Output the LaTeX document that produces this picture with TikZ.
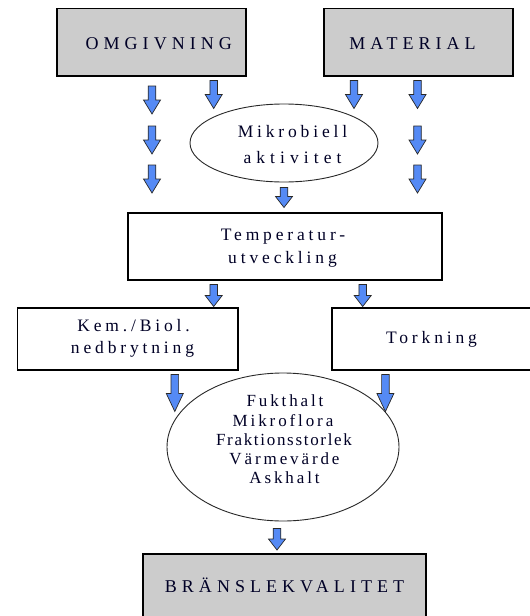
\documentclass[tikz,border=0pt]{standalone}
\usepackage{fontspec}
\setmainfont{Liberation Serif}
\newfontfamily\spcaps[LetterSpace=28]{Liberation Serif}
\newfontfamily\spmid[LetterSpace=22]{Liberation Serif}
\newfontfamily\spwide[LetterSpace=29]{Liberation Serif}
\newfontfamily\spsmall[LetterSpace=17]{Liberation Serif}
\newfontfamily\sptight[LetterSpace=10]{Liberation Serif}
\usetikzlibrary{shapes.geometric}
\definecolor{arrblue}{RGB}{85,138,245}
\definecolor{boxgray}{RGB}{204,204,204}
\definecolor{edgegray}{RGB}{40,40,40}
\tikzset{
  boxnode/.style={draw=black, line width=1.8pt, rectangle, inner sep=0pt},
  graybox/.style={boxnode, fill=boxgray},
  whitebox/.style={boxnode, fill=white},
  ovalnode/.style={draw=edgegray, line width=0.9pt, ellipse, inner sep=0pt, fill=white},
  txt/.style={anchor=base, inner sep=0pt, text=black!85!blue},
  capstxt/.style={txt, font=\fontsize{18}{20}\selectfont\spcaps},
  midtxt/.style={txt, font=\fontsize{17.5}{20}\selectfont\spmid},
  widetxt/.style={txt, font=\fontsize{17.5}{20}\selectfont\spwide},
  smalltxt/.style={txt, font=\fontsize{17}{19}\selectfont\spsmall},
  tighttxt/.style={txt, font=\fontsize{17}{19}\selectfont\sptight},
  arrowbody/.style={fill=arrblue, draw=edgegray, line width=0.7pt, line join=miter},
  pics/darr/.style 2 args={code={
    \draw[arrowbody] (-3.8,0) -- (3.8,0) -- (3.8,#1-#2) -- (8.5,#1-#2) -- (0,#1)
      -- (-8.5,#1-#2) -- (-3.8,#1-#2) -- cycle;}}
}
\begin{document}
\begin{tikzpicture}[x=1pt,y=-1pt]
\useasboundingbox (0,0) rectangle (530,616);
\fill[white] (0,0) rectangle (530,616);

% boxes
\node[graybox, minimum width=189pt, minimum height=67.5pt] (omg) at (151.5,42.25) {};
\node[graybox, minimum width=189pt, minimum height=67.5pt] (mat) at (418.5,42.25) {};
\node[ovalnode, minimum width=188pt, minimum height=78pt] (mik) at (284,143) {};
\node[whitebox, minimum width=314pt, minimum height=67pt] (temp) at (285,246.5) {};
\node[whitebox, minimum width=220.5pt, minimum height=62pt] (kem) at (127.8,338.6) {};
\node[whitebox, minimum width=210pt, minimum height=62pt] (tork) at (437,338.6) {};
\node[ovalnode, minimum width=232pt, minimum height=148pt] (egen) at (283,447) {};
\node[graybox, minimum width=283pt, minimum height=76pt] (bransle) at (284.5,592) {};

% texts
\node[capstxt] (omgt) at (158.8,49.3) {OMGIVNING};
\node[capstxt] (matt) at (412.6,49.3) {MATERIAL};
\node[capstxt] (branslet) at (284.5,592.5) {BRÄNSLEKVALITET};
\node[midtxt] (mik1) at (292.5,137) {Mikrobiell};
\node[widetxt] (mik2) at (292.5,163) {aktivitet};
\node[midtxt] (temp1) at (283,240.5) {Temperatur-};
\node[midtxt] (temp2) at (282.5,263) {utveckling};
\node[midtxt] (kem1) at (133.5,331) {Kem./Biol.};
\node[midtxt] (kem2) at (132.5,353.5) {nedbrytning};
\node[midtxt] (tork1) at (431.5,343.5) {Torkning};
\node[smalltxt] (e1) at (285,406) {Fukthalt};
\node[smalltxt] (e2) at (283,426) {Mikroflora};
\node[tighttxt] (e3) at (284,445) {Fraktionsstorlek};
\node[smalltxt] (e4) at (284.5,464) {Värmevärde};
\node[smalltxt] (e5) at (284.5,483.3) {Askhalt};

% block arrows
\pic (a1) at (152,86) {darr={28}{14}};
\pic (a2) at (152,126) {darr={28}{14}};
\pic (a3) at (152,165) {darr={28}{14}};
\pic (a4) at (213.7,80.5) {darr={28}{14}};
\pic (a5) at (354,80.5) {darr={28}{14}};
\pic (a6) at (417.5,80.5) {darr={28}{14}};
\pic (a7) at (417.5,126) {darr={28}{14}};
\pic (a8) at (417.5,165) {darr={28}{14}};
\pic (a9) at (284,187.5) {darr={20}{11}};
\pic (a10) at (213.7,284.5) {darr={22}{11}};
\pic (a11) at (362.7,284.5) {darr={22}{11}};
\pic (a12) at (174.8,374.5) {darr={37}{18}};
\pic (a13) at (385.4,374.5) {darr={37}{18}};
\pic (a14) at (277,528.5) {darr={21.5}{11}};
\end{tikzpicture}
\end{document}
